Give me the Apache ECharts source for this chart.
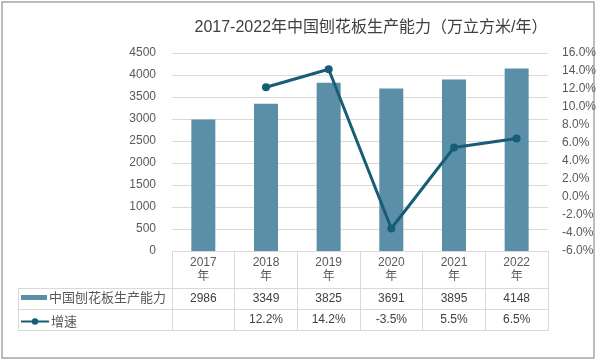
<!DOCTYPE html>
<html>
<head>
<meta charset="utf-8">
<script src="https://cdn.jsdelivr.net/npm/echarts@6/dist/echarts.min.js"></script>
<style>html,body{margin:0;padding:0;background:#fff}#c{width:599px;height:362px}</style>
</head>
<body>
<div id="c"></div>
<script>
var title = '2017-2022年中国刨花板生产能力（万立方米/年）';
var years = ['2017', '2018', '2019', '2020', '2021', '2022'];
var capacityName = '中国刨花板生产能力';
var capacity = [2986, 3349, 3825, 3691, 3895, 4148];
var growthName = '增速';
var growth = [null, 12.2, 14.2, -3.5, 5.5, 6.5];
var leftTicks = {min: 0, max: 4500, interval: 500};
var rightTicks = {min: -6, max: 16, interval: 2};

var FONT = '"Liberation Sans", "Noto Sans CJK SC", sans-serif';
var TXT = '#595959';
var GRID = '#d9d9d9';

var chart = echarts.init(document.getElementById('c'), null, {renderer: 'canvas'});
var catLabels = years.map(function (y) { return y + '\n年'; });
var capLabels = capacity.map(function (v) { return String(v); });
var growthLabels = growth.map(function (v) { return v == null ? '' : v.toFixed(1) + '%'; });

chart.setOption({
  backgroundColor: '#fff',
  animation: false,
  title: {
    text: title, left: 366, top: 15, textAlign: 'center',
    textStyle: {fontFamily: FONT, fontSize: 16, fontWeight: 'normal', color: '#404040'}
  },
  grid: {left: 172, right: 51, top: 53, bottom: 111},
  legend: [
    {data: [{name: capacityName, icon: 'rect'}], left: 21, top: 291, itemWidth: 26, itemHeight: 5, itemGap: 4,
      textStyle: {fontFamily: '"Noto Sans CJK SC", sans-serif', fontSize: 13, color: TXT, padding: [0, 0, 0, -3]}, padding: 0},
    {data: [growthName], left: 20, top: 315, itemWidth: 28, itemHeight: 8, padding: 0,
      textStyle: {fontFamily: '"Noto Sans CJK SC", sans-serif', fontSize: 13, color: TXT, padding: [0, 0, 0, -3]}}
  ],
  xAxis: [
    {type: 'category', data: catLabels, boundaryGap: true,
      axisLine: {show: true, lineStyle: {color: GRID, width: 1}},
      axisTick: {show: true, length: 80, interval: 0, lineStyle: {color: GRID}},
      axisLabel: {interval: 0, margin: 5, fontFamily: FONT, fontSize: 12, color: TXT, lineHeight: 14}},
    {type: 'category', data: capLabels, position: 'bottom', offset: 41, boundaryGap: true,
      axisLine: {show: false}, axisTick: {show: false},
      axisLabel: {interval: 0, margin: 0, fontFamily: FONT, fontSize: 12, color: '#404040', lineHeight: 14}},
    {type: 'category', data: growthLabels, position: 'bottom', offset: 62, boundaryGap: true,
      axisLine: {show: false}, axisTick: {show: false},
      axisLabel: {interval: 0, margin: 0, fontFamily: FONT, fontSize: 12, color: '#404040', lineHeight: 14}}
  ],
  yAxis: [
    {type: 'value', min: leftTicks.min, max: leftTicks.max, interval: leftTicks.interval,
      axisLine: {show: false}, axisTick: {show: false},
      splitLine: {lineStyle: {color: GRID}},
      axisLabel: {margin: 16, fontFamily: FONT, fontSize: 12, color: TXT,
        formatter: function (v) { return String(v); }}},
    {type: 'value', min: rightTicks.min, max: rightTicks.max, interval: rightTicks.interval,
      axisLine: {show: false}, axisTick: {show: false}, splitLine: {show: false},
      axisLabel: {margin: 14, fontFamily: FONT, fontSize: 12, color: TXT,
        formatter: function (v) { return v.toFixed(1) + '%'; }}}
  ],
  series: [
    {name: capacityName, type: 'bar', data: capacity, barWidth: 24, xAxisIndex: 0, yAxisIndex: 0,
      itemStyle: {color: '#5b8fa7'}},
    {name: growthName, type: 'line', data: growth.map(function (v) { return v == null ? '-' : v; }),
      xAxisIndex: 0, yAxisIndex: 1, symbol: 'circle', symbolSize: 8, connectNulls: false,
      lineStyle: {color: '#175d76', width: 3}, itemStyle: {color: '#175d76'}}
  ],
  graphic: [
    {type: 'rect', shape: {x: 2, y: 2, width: 592, height: 356}, style: {fill: 'none', stroke: '#a6a6a6', lineWidth: 1.5}, silent: true},
    {type: 'line', shape: {x1: 18, y1: 288.5, x2: 548, y2: 288.5}, style: {stroke: GRID, lineWidth: 1}},
    {type: 'line', shape: {x1: 18, y1: 309.5, x2: 548, y2: 309.5}, style: {stroke: GRID, lineWidth: 1}},
    {type: 'line', shape: {x1: 18, y1: 330.5, x2: 548, y2: 330.5}, style: {stroke: GRID, lineWidth: 1}},
    {type: 'line', shape: {x1: 18.5, y1: 288, x2: 18.5, y2: 331}, style: {stroke: GRID, lineWidth: 1}}
  ]
});
</script>
</body>
</html>
